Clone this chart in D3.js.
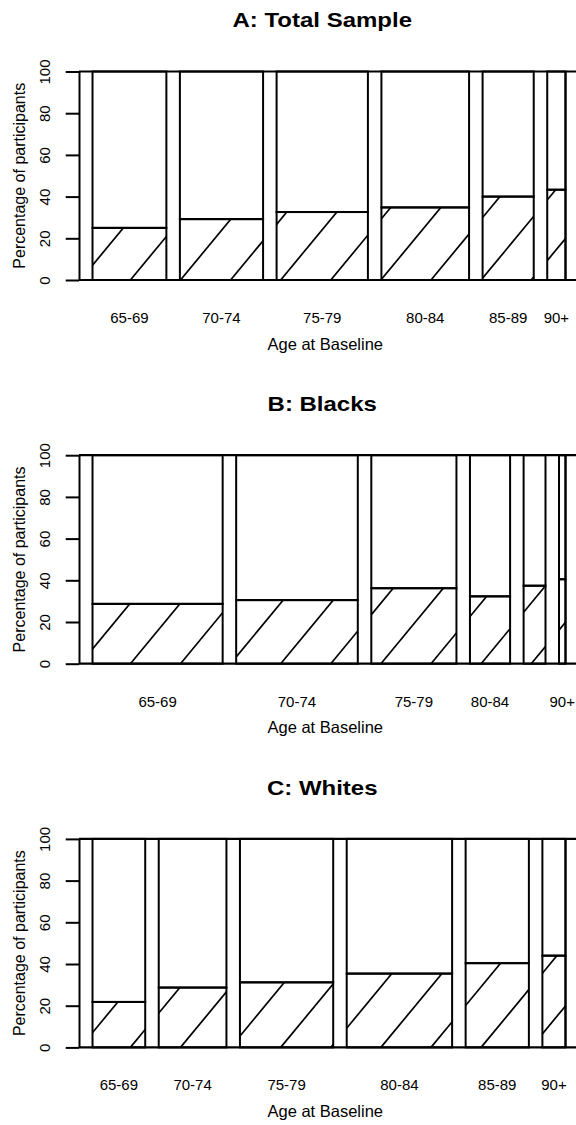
<!DOCTYPE html>
<html>
<head>
<meta charset="utf-8">
<script src="https://cdn.jsdelivr.net/npm/d3@7"></script>
<style>
  body { margin: 0; background: #fff; }
  text { font-family: "Liberation Sans", Arial, Helvetica, sans-serif; fill: #000; }
</style>
</head>
<body>
<div id="chart"></div>
<script>
// Age groups along the x axis (same for every panel)
const ageGroups = ["65-69", "70-74", "75-79", "80-84", "85-89", "90+"];
const panelTitles = ["A: Total Sample", "B: Blacks", "C: Whites"];

// Share of the sample in each age group (%), sets the bar widths
const widthTotal  = [18.2, 20.5, 22.5, 21.6, 12.6, 4.5];
const widthBlacks = [32.1, 30.0, 21.0, 9.9, 5.4, 1.6];
const widthWhites = [13.0, 16.7, 23.0, 26.0, 15.6, 5.7];

// Percentage of participants in the hatched group
const pctTotal  = [25.0, 29.2, 32.6, 34.8, 40.0, 43.3];
const pctBlacks = [28.7, 30.5, 36.2, 32.3, 37.4, 40.5];
const pctWhites = [21.8, 28.7, 31.2, 35.4, 40.4, 44.0];

const yTicks = [0, 20, 40, 60, 80, 100];

const W = 576, H = 1125;
const plotLeft = 79, plotRight = 565.5;
const plotTop = 71.5, plotH = 208.5, panelStep = 383.7;

// hatching: spacing along the baseline and slope of the lines
const hatchGap = 50.1, hatchSlope = 1.21, hatchPhase = 1.3;

const svg = d3.select("#chart")
  .append("svg")
  .attr("width", W)
  .attr("height", H)
  .style("display", "block");

const panels = [
  { title: panelTitles[0], widths: widthTotal,  pct: pctTotal },
  { title: panelTitles[1], widths: widthBlacks, pct: pctBlacks },
  { title: panelTitles[2], widths: widthWhites, pct: pctWhites }
];

const defs = svg.append("defs");

panels.forEach((p, pi) => {
  const top = plotTop + pi * panelStep;
  const g = svg.append("g").attr("transform", `translate(0,${top})`);

  // spine layout: bar widths by share, gap = 0.2 * mean width
  const space = 0.2 * d3.mean(p.widths);
  let cum = 0;
  const bars = p.widths.map((w, i) => {
    const left = cum + space;
    cum = left + w;
    return { label: ageGroups[i], x0: left, x1: left + w, pct: p.pct[i] };
  });

  const x = d3.scaleLinear().domain([0, cum]).range([plotLeft, plotRight]);
  const y = d3.scaleLinear().domain([0, 100]).range([plotH, 0]);

  // Title
  const title = g.append("text")
    .attr("x", (plotLeft + plotRight) / 2)
    .attr("y", 27.3 - plotTop)
    .attr("text-anchor", "middle")
    .style("font-size", "20.5px")
    .style("font-weight", "bold")
    .text(p.title);
  const tl = title.node().getComputedTextLength();
  title.attr("textLength", tl * 1.17).attr("lengthAdjust", "spacingAndGlyphs");

  // Bars: hatched lower part, white upper part
  bars.forEach((b, i) => {
    const id = `clip-${pi}-${i}`;
    defs.append("clipPath").attr("id", id)
      .append("rect")
      .attr("x", x(b.x0))
      .attr("y", top + y(b.pct))
      .attr("width", x(b.x1) - x(b.x0))
      .attr("height", y(0) - y(b.pct));

    const hg = g.append("g").attr("clip-path", `url(#${id})`)
      .attr("transform", `translate(0,${-top})`)
      .append("g").attr("transform", `translate(0,${top})`);
    const rise = plotH;
    const ks = d3.range(-3, 14).filter(k => {
      const xb = plotLeft + hatchPhase + k * hatchGap;
      return xb + rise / hatchSlope >= x(b.x0) && xb <= x(b.x1);
    });
    hg.selectAll("line")
      .data(ks)
      .enter().append("line")
      .attr("x1", k => plotLeft + hatchPhase + k * hatchGap)
      .attr("y1", y(0))
      .attr("x2", k => plotLeft + hatchPhase + k * hatchGap + rise / hatchSlope)
      .attr("y2", y(0) - rise)
      .style("stroke", "#000")
      .style("stroke-width", 1.7);

    g.append("rect")
      .attr("x", x(b.x0))
      .attr("y", y(b.pct))
      .attr("width", x(b.x1) - x(b.x0))
      .attr("height", y(0) - y(b.pct))
      .style("fill", "none")
      .style("stroke", "#000")
      .style("stroke-width", 2);

    g.append("rect")
      .attr("x", x(b.x0))
      .attr("y", y(100))
      .attr("width", x(b.x1) - x(b.x0))
      .attr("height", y(b.pct) - y(100))
      .style("fill", "none")
      .style("stroke", "#000")
      .style("stroke-width", 2);
  });

  // top and bottom lines run across the whole width
  g.selectAll(".hline")
    .data([0, 100])
    .enter().append("line")
    .attr("class", "hline")
    .attr("x1", plotLeft).attr("x2", W + 5)
    .attr("y1", d => y(d)).attr("y2", d => y(d))
    .style("stroke", "#000")
    .style("stroke-width", 2.2);

  // right edge of the plot region
  g.append("line")
    .attr("x1", plotRight).attr("x2", plotRight)
    .attr("y1", y(0)).attr("y2", y(100))
    .style("stroke", "#000")
    .style("stroke-width", 2);

  // y axis with rotated labels
  const yAxis = g.append("g")
    .attr("transform", `translate(${plotLeft},0)`)
    .call(d3.axisLeft(y).tickValues(yTicks).tickSize(13.3).tickSizeOuter(0));
  yAxis.select(".domain").style("stroke", "#000").style("stroke-width", 2);
  yAxis.selectAll(".tick line").style("stroke", "#000").style("stroke-width", 2);
  yAxis.selectAll(".tick text")
    .attr("x", null).attr("dy", null)
    .attr("transform", "translate(-29,0) rotate(-90)")
    .attr("text-anchor", "middle")
    .style("font-size", "15px")
    .style("font-family", "'Liberation Sans', Arial, sans-serif")
    .style("fill", "#000");

  // y axis title
  g.append("text")
    .attr("transform", `translate(25,${plotH / 2}) rotate(-90)`)
    .attr("text-anchor", "middle")
    .style("font-size", "16px")
    .text("Percentage of participants");

  // category labels, skipping ones that would overlap (as R does)
  let lastRight = -Infinity;
  bars.forEach(b => {
    const cx = (x(b.x0) + x(b.x1)) / 2;
    const t = g.append("text")
      .attr("x", cx)
      .attr("y", plotH + 43)
      .attr("text-anchor", "middle")
      .style("font-size", "15px")
      .text(b.label);
    const len = t.node().getComputedTextLength();
    if (cx - len / 2 < lastRight + 8) {
      t.remove();
    } else {
      lastRight = cx + len / 2;
    }
  });

  // x axis title
  g.append("text")
    .attr("x", (plotLeft + plotRight) / 2 + 3)
    .attr("y", plotH + 69.5)
    .attr("text-anchor", "middle")
    .style("font-size", "16.5px")
    .text("Age at Baseline");
});
</script>
</body>
</html>
